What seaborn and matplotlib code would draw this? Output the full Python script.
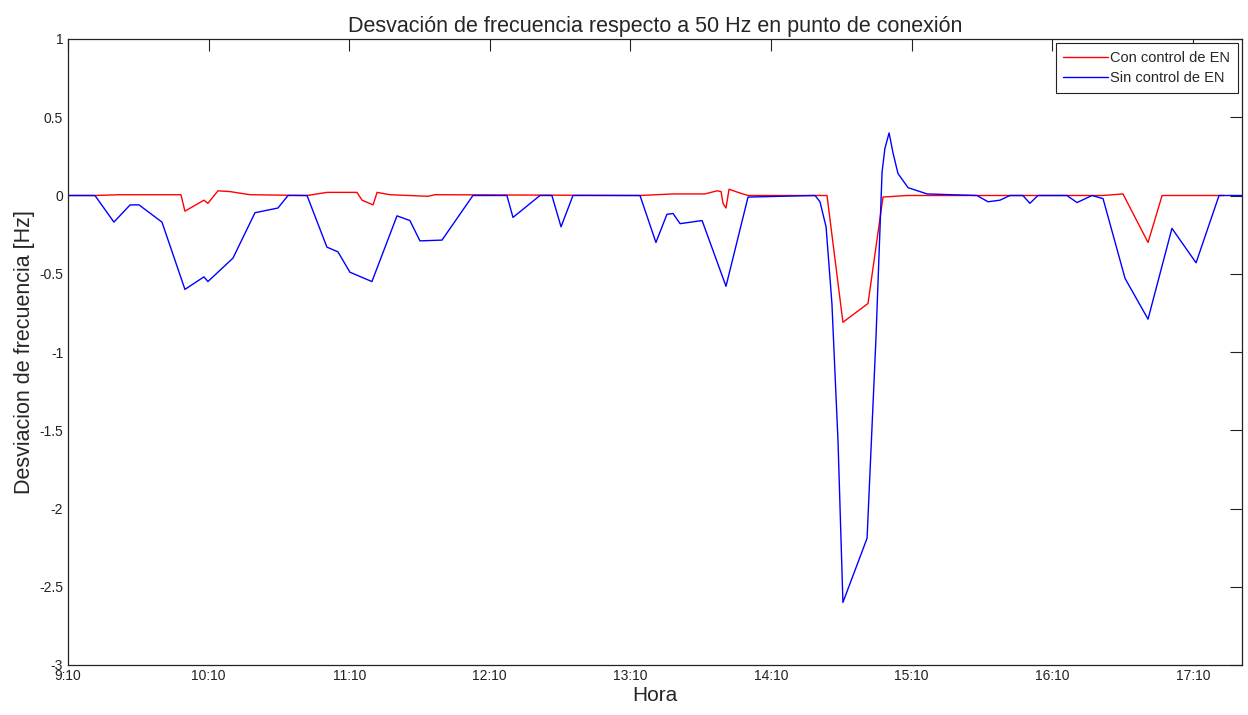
import numpy as np
import pandas as pd
import matplotlib
matplotlib.use("Agg")
import matplotlib.pyplot as plt
from matplotlib.ticker import FuncFormatter
import seaborn as sns

# minutos desde las 9:10 y desviacion [Hz]
t_sin = [0, 11.5, 19.6, 26.5, 30.3, 40.1, 49.9, 58.0, 59.7, 70.4, 79.8, 89.6, 93.9, 102.0,
         110.5, 115.2, 120.3, 129.7, 140.4, 145.9, 150.2, 159.6, 172.8, 187.3, 189.9, 201.4,
         206.5, 210.4, 215.5, 244.1, 250.9, 255.6, 258.2, 261.2, 270.6, 280.8, 290.2, 318.8,
         320.9, 323.5, 326.0, 328.6, 330.7, 341.0, 344.8, 347.4, 348.6, 350.4, 352.1, 354.2,
         358.5, 366.6, 387.9, 392.6, 397.7, 402.0, 407.5, 410.5, 413.9, 426.3, 430.6, 437.0,
         441.7, 451.1, 460.9, 471.1, 481.4, 491.2, 501.0]
f_sin = [0, 0, -0.17, -0.06, -0.06, -0.17, -0.60, -0.52, -0.55, -0.40, -0.11, -0.08, 0, 0,
         -0.33, -0.36, -0.49, -0.55, -0.13, -0.16, -0.29, -0.285, 0, 0, -0.14, 0,
         0, -0.20, 0, 0, -0.30, -0.12, -0.115, -0.18, -0.16, -0.58, -0.01, 0,
         -0.04, -0.20, -0.69, -1.57, -2.60, -2.19, -0.91, 0.15, 0.30, 0.40, 0.27, 0.14,
         0.05, 0.01, 0, -0.04, -0.03, 0, 0, -0.05, 0, 0, -0.045, 0,
         -0.02, -0.53, -0.79, -0.21, -0.43, 0, 0]

t_con = [0, 11.5, 22.2, 48.2, 49.9, 58.0, 59.7, 64.0, 69.1, 77.7, 102.0, 110.5, 123.3,
         125.5, 130.2, 131.9, 137.4, 153.6, 156.6, 244.1, 258.2, 271.8, 277.0, 278.7,
         279.5, 280.8, 282.1, 285.9, 290.2, 319.6, 323.9, 330.7, 341.4, 347.8, 358.0,
         441.7, 450.2, 460.9, 466.9, 493.3]
f_con = [0, 0, 0.005, 0.005, -0.10, -0.03, -0.05, 0.03, 0.025, 0.005, 0, 0.02, 0.02,
         -0.03, -0.06, 0.02, 0.005, -0.005, 0.005, 0, 0.01, 0.01, 0.03, 0.025,
         -0.05, -0.08, 0.04, 0.02, 0, 0, 0, -0.81, -0.69, -0.01, 0,
         0, 0.01, -0.30, 0, 0]

x_ticks = [0, 60, 120, 180, 240, 300, 360, 420, 480]
x_labels = ["9:10", "10:10", "11:10", "12:10", "13:10", "14:10", "15:10", "16:10", "17:10"]
y_ticks = np.arange(-3, 1.01, 0.5)

df = pd.concat([
    pd.DataFrame({"t": t_con, "f": f_con, "serie": "Con control de EN"}),
    pd.DataFrame({"t": t_sin, "f": f_sin, "serie": "Sin control de EN"}),
], ignore_index=True)

sns.set_style("white")
plt.rcParams["font.family"] = ["Liberation Sans", "DejaVu Sans"]
plt.rcParams["axes.unicode_minus"] = False

fig = plt.figure(figsize=(12.48, 7.15), dpi=100)
ax = fig.add_axes([68 / 1248, 1 - 665 / 715, (1242 - 68) / 1248, (665 - 39) / 715])

sns.lineplot(data=df, x="t", y="f", hue="serie", sort=False, estimator=None,
             palette={"Con control de EN": "#ff0000", "Sin control de EN": "#0000ff"},
             linewidth=1.0, ax=ax)

ax.set_xlim(0, 501)
ax.set_ylim(-3, 1)
ax.set_xticks(x_ticks)
ax.set_xticklabels(x_labels)
ax.set_yticks(y_ticks)
ax.yaxis.set_major_formatter(FuncFormatter(lambda v, p: "%g" % v))
ax.tick_params(direction="in", length=8.5, width=0.8, color="#222222",
               top=True, right=True, labelsize=10, labelcolor="#222222")
ax.tick_params(axis="y", pad=3.5)
ax.tick_params(axis="x", pad=3)
for s in ax.spines.values():
    s.set_color("#222222")
    s.set_linewidth(0.9)

ax.set_title("Desvación de frecuencia respecto a 50 Hz en punto de conexión",
             fontsize=15.5, pad=5)
ax.set_xlabel("Hora", fontsize=15, labelpad=2)
ax.set_ylabel("Desviacion de frecuencia [Hz]", fontsize=15.5, labelpad=3)

leg = ax.legend(loc="upper right", fontsize=10.5, handlelength=3.1, fancybox=False,
                frameon=True, borderaxespad=0.3, handletextpad=0.15,
                labelspacing=0.45, borderpad=0.5, framealpha=1)
leg.get_frame().set_edgecolor("#222222")
leg.get_frame().set_linewidth(0.8)

fig.savefig("out.png", dpi=100)
